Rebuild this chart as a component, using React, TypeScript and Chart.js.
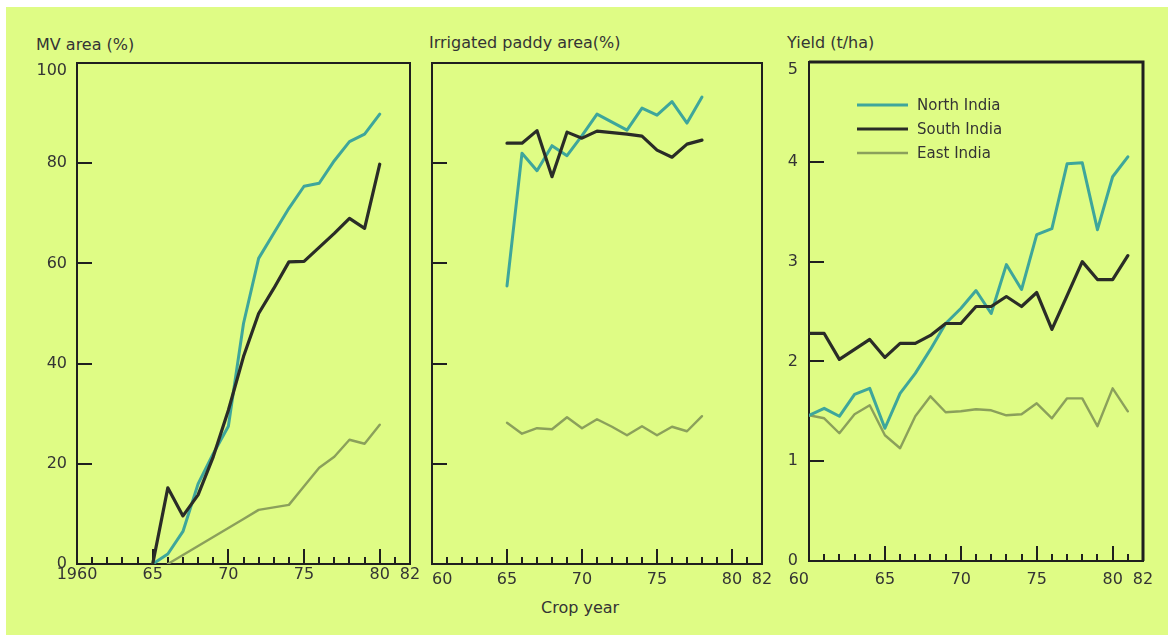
import React, { useEffect, useRef } from 'react';
import { Chart, registerables } from 'chart.js';

Chart.register(...registerables);

const FONT = "'DejaVu Sans', sans-serif";
const TEXT = '#343434';
const BG = '#dffc85';
const NORTH_COLOR = '#3ea69b';
const SOUTH_COLOR = '#2a2c27';
const EAST_COLOR = '#8ba05b';
const FRAME = '#1f1f1f';

const seriesNames = ['North India', 'South India', 'East India'];

// Panel 1: MV area (%)
const mvYears = [65, 66, 67, 68, 69, 70, 71, 72, 73, 74, 75, 76, 77, 78, 79, 80];
const mvNorth = [0, 2, 6.5, 16, 22, 27.5, 48, 61, 66, 71, 75.4, 76, 80.5, 84.3, 85.8, 89.8];
const mvSouth = [0, 15.2, 9.6, 13.8, 21.4, 30.7, 41.4, 50, 55, 60.3, 60.4, 63.2, 66, 69, 67, 79.8];
const mvEastYears = [66, 67, 68, 69, 70, 71, 72, 73, 74, 75, 76, 77, 78, 79, 80];
const mvEast = [0, 1.8, 3.6, 5.4, 7.2, 9, 10.8, 11.3, 11.8, 15.5, 19.2, 21.4, 24.8, 24, 27.8];

// Panel 2: Irrigated paddy area (%)
const irrYears = [65, 66, 67, 68, 69, 70, 71, 72, 73, 74, 75, 76, 77, 78];
const irrNorth = [55.5, 82, 78.5, 83.5, 81.5, 85.5, 89.8, 88.2, 86.6, 91, 89.6, 92.3, 88, 93.2];
const irrSouth = [84, 84, 86.5, 77.3, 86.2, 85, 86.4, 86.1, 85.8, 85.4, 82.6, 81.2, 83.8, 84.6];
const irrEast = [28.2, 26, 27.1, 26.9, 29.3, 27.1, 28.9, 27.4, 25.7, 27.5, 25.7, 27.4, 26.5, 29.5];

// Panel 3: Yield (t/ha)
const yieldYears = [60, 61, 62, 63, 64, 65, 66, 67, 68, 69, 70, 71, 72, 73, 74, 75, 76, 77, 78, 79, 80, 81];
const yieldNorth = [1.46, 1.53, 1.45, 1.67, 1.73, 1.33, 1.68, 1.88, 2.12, 2.38, 2.53, 2.71, 2.48, 2.97, 2.72, 3.27, 3.33, 3.98, 3.99, 3.32, 3.85, 4.05];
const yieldSouth = [2.28, 2.28, 2.02, 2.12, 2.22, 2.04, 2.18, 2.18, 2.26, 2.38, 2.38, 2.55, 2.55, 2.65, 2.55, 2.69, 2.32, 2.66, 3.0, 2.82, 2.82, 3.06];
const yieldEast = [1.46, 1.43, 1.28, 1.47, 1.56, 1.26, 1.13, 1.45, 1.65, 1.49, 1.5, 1.52, 1.51, 1.46, 1.47, 1.58, 1.43, 1.63, 1.63, 1.35, 1.73, 1.5];

// Axis tick labels
const xTickYears = [60, 65, 70, 75, 80, 82];
const mvXLabels = ['1960', '65', '70', '75', '80', '82'];
const irrXLabels = ['    60', '65', '70', '75', '80', '82'];
const yieldXLabels = ['60    ', '65', '70', '75', '80', '82'];

const pts = (xs: number[], ys: number[]) => xs.map((x, i) => ({ x, y: ys[i] }));

const frameTicksPlugin = {
  id: 'frameTicks',
  beforeDatasetsDraw(chart: any, _args: any, opts: any) {
    const { ctx, chartArea: a, scales } = chart;
    const xs = scales.x;
    const ys = scales.y;
    ctx.save();
    ctx.strokeStyle = FRAME;
    ctx.lineWidth = 2;
    ctx.beginPath();
    xs.ticks.forEach((t: any) => {
      const v = t.value;
      if (v <= xs.min || v >= xs.max) return;
      const px = Math.round(xs.getPixelForValue(v));
      const len = v % 5 === 0 ? 15 : 7;
      ctx.moveTo(px, a.bottom);
      ctx.lineTo(px, a.bottom - len);
    });
    ys.ticks.forEach((t: any) => {
      const v = t.value;
      if (v <= ys.min || v >= ys.max) return;
      const py = Math.round(ys.getPixelForValue(v));
      ctx.moveTo(a.left, py);
      ctx.lineTo(a.left + 15, py);
    });
    ctx.stroke();
    ctx.strokeRect(a.left, a.top, a.right - a.left, a.bottom - a.top);
    if (opts && opts.heavy) {
      ctx.lineWidth = 3;
      ctx.beginPath();
      ctx.moveTo(a.left, a.top);
      ctx.lineTo(a.right, a.top);
      ctx.lineTo(a.right, a.bottom);
      ctx.stroke();
    }
    ctx.restore();
  },
};

const insideLegendPlugin = {
  id: 'insideLegend',
  afterDatasetsDraw(chart: any, _args: any, opts: any) {
    if (!opts || !opts.show) return;
    const { ctx, chartArea: a } = chart;
    ctx.save();
    ctx.font = `15px ${FONT}`;
    ctx.textBaseline = 'middle';
    ctx.textAlign = 'left';
    chart.data.datasets.forEach((ds: any, i: number) => {
      const y = a.top + 43 + i * 24;
      ctx.strokeStyle = ds.borderColor;
      ctx.lineWidth = ds.borderWidth;
      ctx.beginPath();
      ctx.moveTo(a.left + 48, y);
      ctx.lineTo(a.left + 99, y);
      ctx.stroke();
      ctx.fillStyle = TEXT;
      ctx.fillText(ds.label, a.left + 108, y + 1);
    });
    ctx.restore();
  },
};

type PanelProps = {
  left: number;
  top: number;
  width: number;
  height: number;
  yAxisWidth: number;
  padding: { top: number; right: number; bottom: number; left: number };
  xHeight: number;
  xPad: number;
  yPad: number;
  yMax: number;
  yStep: number;
  showYLabels: boolean;
  xLabels: string[];
  series: { x: number; y: number }[][];
  heavy?: boolean;
  legend?: boolean;
};

function Panel(p: PanelProps) {
  const ref = useRef<HTMLCanvasElement | null>(null);
  useEffect(() => {
    if (!ref.current) return;
    const colors = [NORTH_COLOR, SOUTH_COLOR, EAST_COLOR];
    const widths = [3, 3.2, 2.4];
    const orders = [2, 1, 3];
    const chart = new Chart(ref.current, {
      type: 'line',
      data: {
        datasets: p.series.map((s, i) => ({
          label: seriesNames[i],
          data: s,
          borderColor: colors[i],
          borderWidth: widths[i],
          pointRadius: 0,
          tension: 0,
          fill: false,
          order: orders[i],
          borderJoinStyle: 'round' as const,
          borderCapStyle: 'round' as const,
        })),
      },
      options: {
        animation: false,
        responsive: false,
        devicePixelRatio: 1,
        layout: { padding: p.padding },
        plugins: {
          legend: { display: false },
          tooltip: { enabled: false },
          frameTicks: { heavy: !!p.heavy },
          insideLegend: { show: !!p.legend },
        } as any,
        scales: {
          x: {
            type: 'linear',
            min: 60,
            max: 82,
            grid: { display: false, drawTicks: false },
            border: { display: false },
            ticks: {
              stepSize: 1,
              autoSkip: false,
              maxRotation: 0,
              minRotation: 0,
              padding: p.xPad,
              color: TEXT,
              font: { family: FONT, size: 16 },
              callback: (v: any) => {
                const i = xTickYears.indexOf(Number(v));
                return i >= 0 ? p.xLabels[i] : '';
              },
            },
            afterFit: (s: any) => {
              s.height = p.xHeight;
            },
          },
          y: {
            type: 'linear',
            min: 0,
            max: p.yMax,
            grid: { display: false, drawTicks: false },
            border: { display: false },
            ticks: {
              display: p.showYLabels,
              stepSize: p.yStep,
              padding: p.yPad,
              color: TEXT,
              font: { family: FONT, size: 16, lineHeight: 1 },
              callback: (v: any) => (Number(v) === p.yMax ? ['', String(v)] : String(v)),
            },
            afterFit: (s: any) => {
              s.width = p.yAxisWidth;
            },
          },
        },
      },
      plugins: [frameTicksPlugin, insideLegendPlugin],
    } as any);
    return () => chart.destroy();
  }, []);
  return (
    <canvas
      ref={ref}
      width={p.width}
      height={p.height}
      style={{ position: 'absolute', left: p.left, top: p.top, width: p.width, height: p.height }}
    />
  );
}

const textStyle: React.CSSProperties = {
  position: 'absolute',
  fontFamily: FONT,
  fontSize: 16,
  lineHeight: '16px',
  color: TEXT,
  whiteSpace: 'nowrap',
};

export default function App() {
  return (
    <div style={{ position: 'fixed', left: 0, top: 0, width: 1168, height: 638, background: '#ffffff', overflow: 'hidden' }}>
      <div style={{ position: 'absolute', left: 6, top: 7, width: 1162, height: 628, background: BG }} />
      <div style={{ ...textStyle, left: 36, top: 37 }}>MV area (%)</div>
      <div style={{ ...textStyle, left: 429, top: 35 }}>Irrigated paddy area(%)</div>
      <div style={{ ...textStyle, left: 787, top: 35 }}>Yield (t/ha)</div>
      <div style={{ ...textStyle, left: 541, top: 600 }}>Crop year</div>
      <Panel
        left={10}
        top={20}
        width={420}
        height={610}
        yAxisWidth={67}
        padding={{ top: 43, right: 20, bottom: 26, left: 0 }}
        xHeight={40}
        xPad={1}
        yPad={10}
        yMax={100}
        yStep={20}
        showYLabels={true}
        xLabels={mvXLabels}
        series={[pts(mvYears, mvNorth), pts(mvYears, mvSouth), pts(mvEastYears, mvEast)]}
      />
      <Panel
        left={398}
        top={20}
        width={387}
        height={610}
        yAxisWidth={34}
        padding={{ top: 43, right: 23, bottom: 26, left: 0 }}
        xHeight={40}
        xPad={6}
        yPad={10}
        yMax={100}
        yStep={20}
        showYLabels={false}
        xLabels={irrXLabels}
        series={[pts(irrYears, irrNorth), pts(irrYears, irrSouth), pts(irrYears, irrEast)]}
      />
      <Panel
        left={770}
        top={20}
        width={398}
        height={610}
        yAxisWidth={39}
        padding={{ top: 42, right: 25, bottom: 29, left: 0 }}
        xHeight={40}
        xPad={9}
        yPad={11}
        yMax={5}
        yStep={1}
        showYLabels={true}
        xLabels={yieldXLabels}
        series={[pts(yieldYears, yieldNorth), pts(yieldYears, yieldSouth), pts(yieldYears, yieldEast)]}
        heavy={true}
        legend={true}
      />
    </div>
  );
}
